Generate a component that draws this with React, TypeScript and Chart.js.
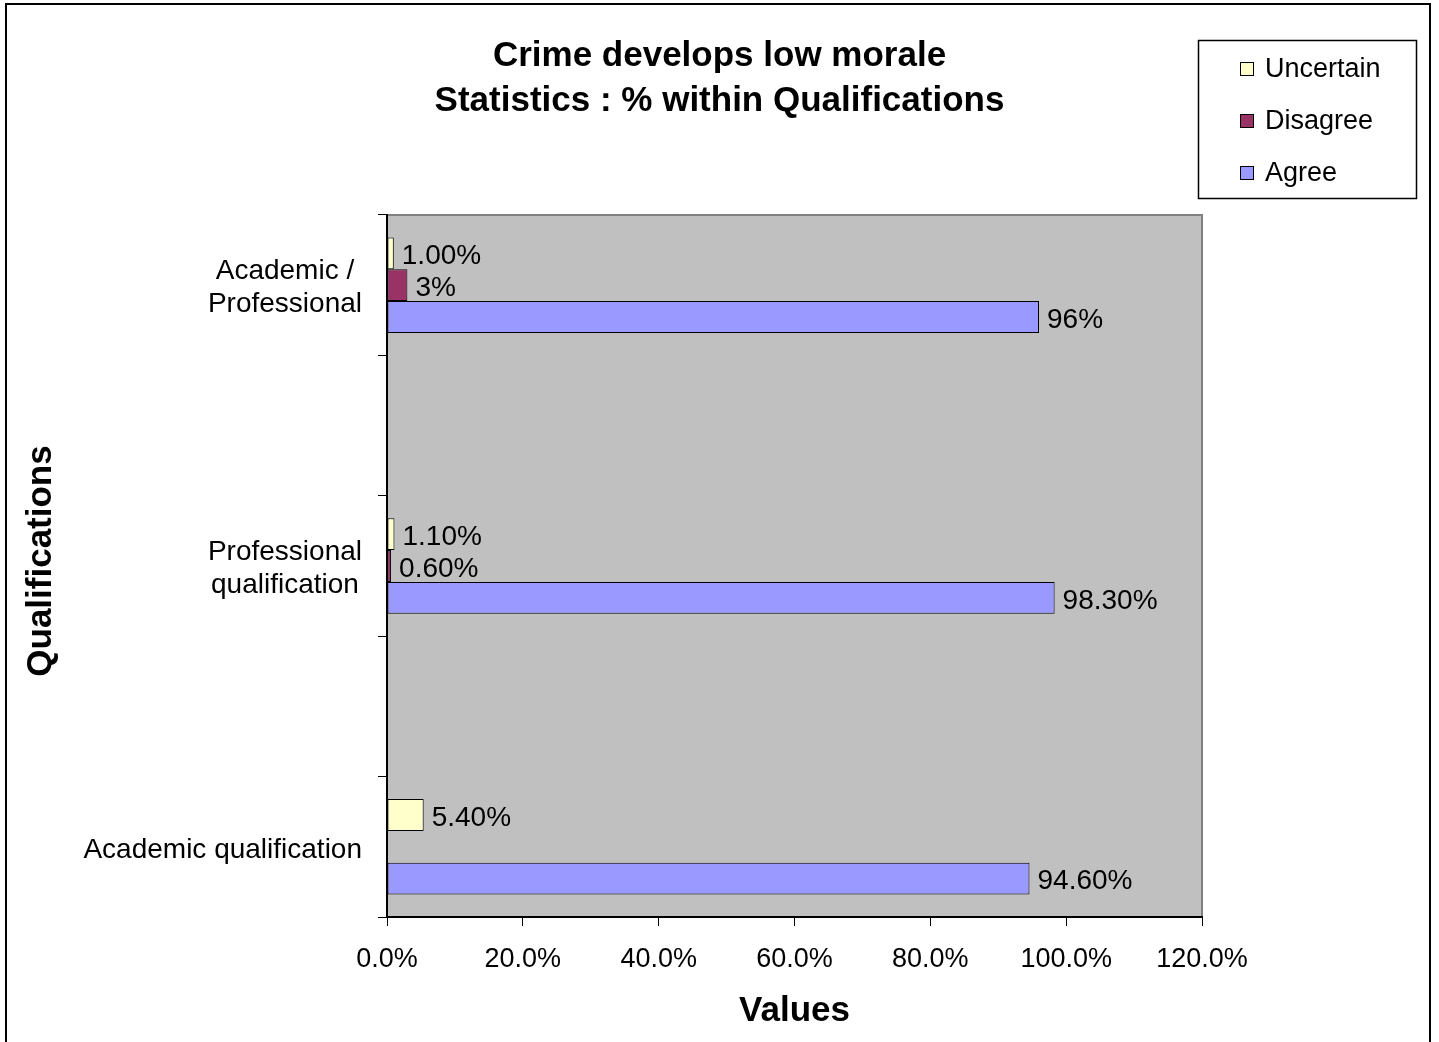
import { useEffect, useRef } from "react";
import { Chart, registerables } from "chart.js";

Chart.register(...registerables);

const categories: (string | string[])[] = [
  ["Academic /", "Professional"],
  "",
  ["Professional", "qualification"],
  "",
  ["Academic qualification"],
];
const seriesNames = ["Uncertain", "Disagree", "Agree"];
const seriesColors = ["#FFFFCC", "#993366", "#9999FF"];
const uncertainValues = [1.0, null, 1.1, null, 5.4];
const disagreeValues = [3, null, 0.6, null, null];
const agreeValues = [96, null, 98.3, null, 94.6];
const uncertainLabels = ["1.00%", "", "1.10%", "", "5.40%"];
const disagreeLabels = ["3%", "", "0.60%", "", ""];
const agreeLabels = ["96%", "", "98.30%", "", "94.60%"];
const xTicks = [0, 20, 40, 60, 80, 100, 120];
const titleLines = ["Crime develops low morale", "Statistics : % within Qualifications"];
const xTitle = "Values";
const yTitle = "Qualifications";

const FAMILY = "'Liberation Sans', Arial, Helvetica, sans-serif";
const labelSets = [uncertainLabels, disagreeLabels, agreeLabels];

const decor = {
  id: "decor",
  beforeDraw(chart: any) {
    const { ctx, chartArea: a } = chart;
    ctx.save();
    ctx.fillStyle = "#ffffff";
    ctx.fillRect(0, 0, chart.width, chart.height);
    ctx.fillStyle = "#C0C0C0";
    ctx.fillRect(a.left, a.top, a.right - a.left, a.bottom - a.top);
    ctx.strokeStyle = "#808080";
    ctx.lineWidth = 2;
    ctx.beginPath();
    ctx.moveTo(a.left, a.top);
    ctx.lineTo(a.right, a.top);
    ctx.lineTo(a.right, a.bottom);
    ctx.stroke();
    ctx.restore();
  },
  afterDraw(chart: any) {
    const { ctx, chartArea: a } = chart;
    ctx.save();
    ctx.fillStyle = "#000";

    // Title
    ctx.font = `bold 35px ${FAMILY}`;
    ctx.textAlign = "center";
    ctx.textBaseline = "middle";
    titleLines.forEach((t, i) => ctx.fillText(t, chart.width / 2, 56 + i * 45));

    // X axis title
    ctx.fillText(xTitle, (a.left + a.right) / 2, 1011);

    // Y axis title
    ctx.save();
    ctx.translate(41, 561);
    ctx.rotate(-Math.PI / 2);
    ctx.fillText(yTitle, 0, 0);
    ctx.restore();

    // Category labels
    ctx.font = `28px ${FAMILY}`;
    const yScale = chart.scales.y;
    chart.data.labels.forEach((lab: any, i: number) => {
      const lines: string[] = Array.isArray(lab) ? lab : lab ? [lab] : [];
      if (!lines.length) return;
      const cy = yScale.getPixelForValue(i) + 3;
      const w = Math.max(...lines.map((l) => ctx.measureText(l).width));
      const cx = 362 - w / 2;
      const lh = 33;
      lines.forEach((l, k) => {
        ctx.fillText(l, cx, cy + (k - (lines.length - 1) / 2) * lh);
      });
    });

    // Data labels
    ctx.textAlign = "left";
    chart.data.datasets.forEach((ds: any, di: number) => {
      const meta = chart.getDatasetMeta(di);
      meta.data.forEach((el: any, j: number) => {
        const v = ds.data[j];
        const txt = labelSets[di][j];
        if (v === null || v === undefined || !txt) return;
        ctx.fillText(txt, el.x + 8, el.y + 3);
      });
    });

    // Legend
    ctx.font = `27px ${FAMILY}`;
    ctx.strokeStyle = "#000";
    ctx.lineWidth = 1.5;
    ctx.strokeRect(1198.5, 40.5, 218, 158);
    chart.data.datasets.forEach((ds: any, i: number) => {
      const y = 69 + i * 52;
      ctx.fillStyle = ds.backgroundColor;
      ctx.fillRect(1240, y - 7, 14, 14);
      ctx.lineWidth = 1;
      ctx.strokeRect(1240.5, y - 6.5, 13, 13);
      ctx.fillStyle = "#000";
      ctx.fillText(ds.label, 1265, y + 1);
    });

    // Outer border
    ctx.lineWidth = 2;
    ctx.strokeRect(6, 4, 1424, 1100);
    ctx.restore();
  },
};

export default function App() {
  const ref = useRef<HTMLCanvasElement | null>(null);
  useEffect(() => {
    if (!ref.current) return;
    const values = [uncertainValues, disagreeValues, agreeValues];
    const chart = new Chart(ref.current, {
      type: "bar",
      data: {
        labels: categories as any,
        datasets: seriesNames.map((name, i) => ({
          label: name,
          data: values[i] as any,
          backgroundColor: seriesColors[i],
          borderColor: "#000",
          borderWidth: 1,
          borderSkipped: false,
          categoryPercentage: 0.68,
          barPercentage: 1.0,
        })),
      },
      options: {
        indexAxis: "y",
        responsive: false,
        animation: false,
        devicePixelRatio: 1,
        layout: { padding: { left: 0, top: 215, right: 237, bottom: 0 } },
        plugins: {
          legend: { display: false },
          title: { display: false },
          tooltip: { enabled: false },
        },
        scales: {
          x: {
            type: "linear",
            min: 0,
            max: 120,
            afterBuildTicks: (s: any) => {
              s.ticks = xTicks.map((v) => ({ value: v }));
            },
            afterFit: (s: any) => {
              s.height = 125;
            },
            ticks: {
              callback: (v: any) => Number(v).toFixed(1) + "%",
              font: { family: FAMILY, size: 27 },
              color: "#000",
              padding: 17,
              maxRotation: 0,
              autoSkip: false,
            },
            grid: { drawOnChartArea: false, drawTicks: true, tickLength: 9, color: "#000" },
            border: { display: true, color: "#000", width: 2 },
          },
          y: {
            type: "category",
            offset: true,
            afterFit: (s: any) => {
              s.width = 387;
            },
            ticks: { display: false },
            grid: { offset: true, drawOnChartArea: false, drawTicks: true, tickLength: 9, color: "#000" },
            border: { display: true, color: "#000", width: 2 },
          },
        },
      },
      plugins: [decor],
    });
    return () => chart.destroy();
  }, []);
  return (
    <div style={{ position: "fixed", left: 0, top: 0, width: 1439, height: 1042, background: "#fff" }}>
      <canvas ref={ref} width={1439} height={1042} style={{ width: 1439, height: 1042, display: "block" }} />
    </div>
  );
}
